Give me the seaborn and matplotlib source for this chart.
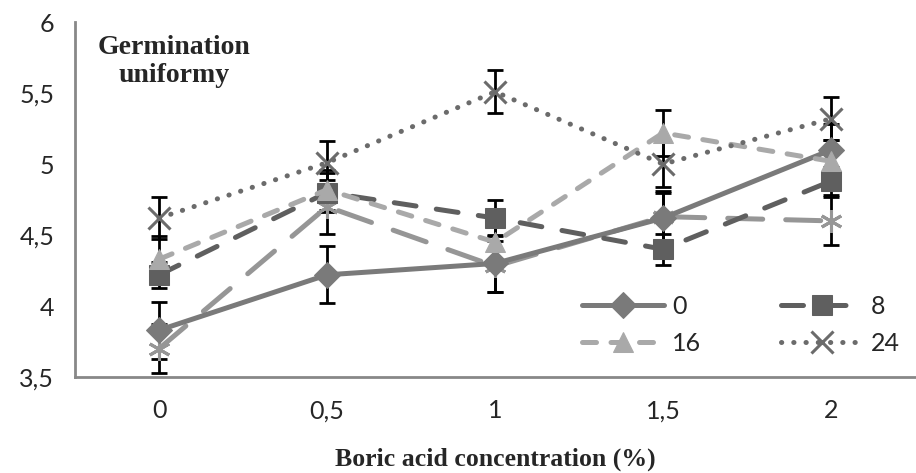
import matplotlib
matplotlib.use("Agg")
import matplotlib.pyplot as plt
import seaborn as sns
import pandas as pd
import numpy as np

categories = ["0", "0,5", "1", "1,5", "2"]
s0 = [3.83, 4.22, 4.30, 4.62, 5.10]
s8 = [4.22, 4.80, 4.62, 4.40, 4.88]
s16 = [4.33, 4.82, 4.45, 5.22, 5.02]
s24 = [4.62, 5.01, 5.51, 5.00, 5.32]
s_extra = [3.70, 4.70, 4.28, 4.63, 4.60]
e0 = [0.20, 0.20, 0.20, 0.18, 0.18]
e8 = [0.09, 0.14, 0.13, 0.11, 0.10]
e16 = [0.16, 0.14, 0.14, 0.16, 0.15]
e24 = [0.15, 0.15, 0.15, 0.16, 0.15]
e_extra = [0.17, 0.19, 0.18, 0.18, 0.17]
legend_labels = ["0", "8", "16", "24"]
yticks = [3.5, 4, 4.5, 5, 5.5, 6]
ytick_labels = ["3,5", "4", "4,5", "5", "5,5", "6"]

sns.set_style("white")
plt.rcParams['font.family'] = ['Lato', 'DejaVu Sans']

fig = plt.figure(figsize=(9.16, 4.73), dpi=100)
ax = fig.add_axes([0.082, 0.203, 0.917, 0.750])

x = np.arange(len(categories))
series = [
    (s_extra, e_extra, "_nolegend_", "#969696", (6, 2, 0), (7.0, 4.6)),
    (s0, e0, legend_labels[0], "#7a7a7a", "D", None),
    (s8, e8, legend_labels[1], "#5f5f5f", "s", (4.4, 4.1)),
    (s16, e16, legend_labels[2], "#a9a9a9", "^", (2.8, 2.9)),
    (s24, e24, legend_labels[3], "#6b6b6b", "x", (0.05, 2.4)),
]

for vals, errs, lab, col, mk, dash in series:
    ax.errorbar(x, vals, yerr=errs, fmt="none", ecolor="black", elinewidth=2,
                capsize=6, capthick=2, zorder=2)

handles = {}
for vals, errs, lab, col, mk, dash in series:
    df = pd.DataFrame({"x": x, "y": vals})
    kw = dict(color=col, linewidth=3.6, marker=mk, markersize=14,
              markeredgecolor=col, markerfacecolor=col, zorder=3,
              solid_capstyle="round", dash_capstyle="round")
    if mk == "s":
        kw["markersize"] = 15
    if mk == "D":
        kw["markersize"] = 13
    if mk in ("x", (6, 2, 0)):
        kw["markeredgewidth"] = 2.2
        kw["markersize"] = 16
    sns.lineplot(data=df, x="x", y="y", ax=ax, label=lab, legend=False, **kw)
    line = ax.lines[-1]
    if dash is not None:
        line.set_dashes(dash)
    if lab != "_nolegend_":
        handles[lab] = line

ax.set_xlim(-0.5, 4.5)
ax.set_ylim(3.5, 6)
ax.set_yticks(yticks)
ax.set_yticklabels(ytick_labels, fontsize=18)
ax.set_xticks(x)
ax.set_xticklabels(categories, fontsize=18)
ax.set_xticks(np.arange(-0.5, 5.0, 1.0), minor=True)
ax.tick_params(axis="x", which="major", length=0, pad=16)
ax.tick_params(axis="x", which="minor", length=7, width=2, color="#888888", direction="out")
ax.tick_params(axis="y", which="major", length=7, width=2, color="#888888", direction="out", pad=8)

for sp in ["top", "right"]:
    ax.spines[sp].set_visible(False)
for sp in ["left", "bottom"]:
    ax.spines[sp].set_color("#888888")
    ax.spines[sp].set_linewidth(2)

ax.set_xlabel("Boric acid concentration (%)", fontsize=18.5, fontweight="bold",
              family=["Liberation Serif", "DejaVu Serif"], labelpad=18)
ax.set_ylabel("")
ax.text(0.118, 0.965, "Germination\nuniformy", transform=ax.transAxes, ha="center",
        va="top", fontsize=20, fontweight="bold",
        family=["Liberation Serif", "DejaVu Serif"], linespacing=1.2)

order = [legend_labels[0], legend_labels[2], legend_labels[1], legend_labels[3]]
leg = ax.legend(handles=[handles[k] for k in order], labels=order, ncol=2, frameon=False,
                loc="lower right", bbox_to_anchor=(1.0, 0.02), fontsize=18,
                handlelength=3.3, handletextpad=0.3, columnspacing=3.2, labelspacing=0.55,
                borderaxespad=0.2)

fig.savefig("out.png", dpi=100)
